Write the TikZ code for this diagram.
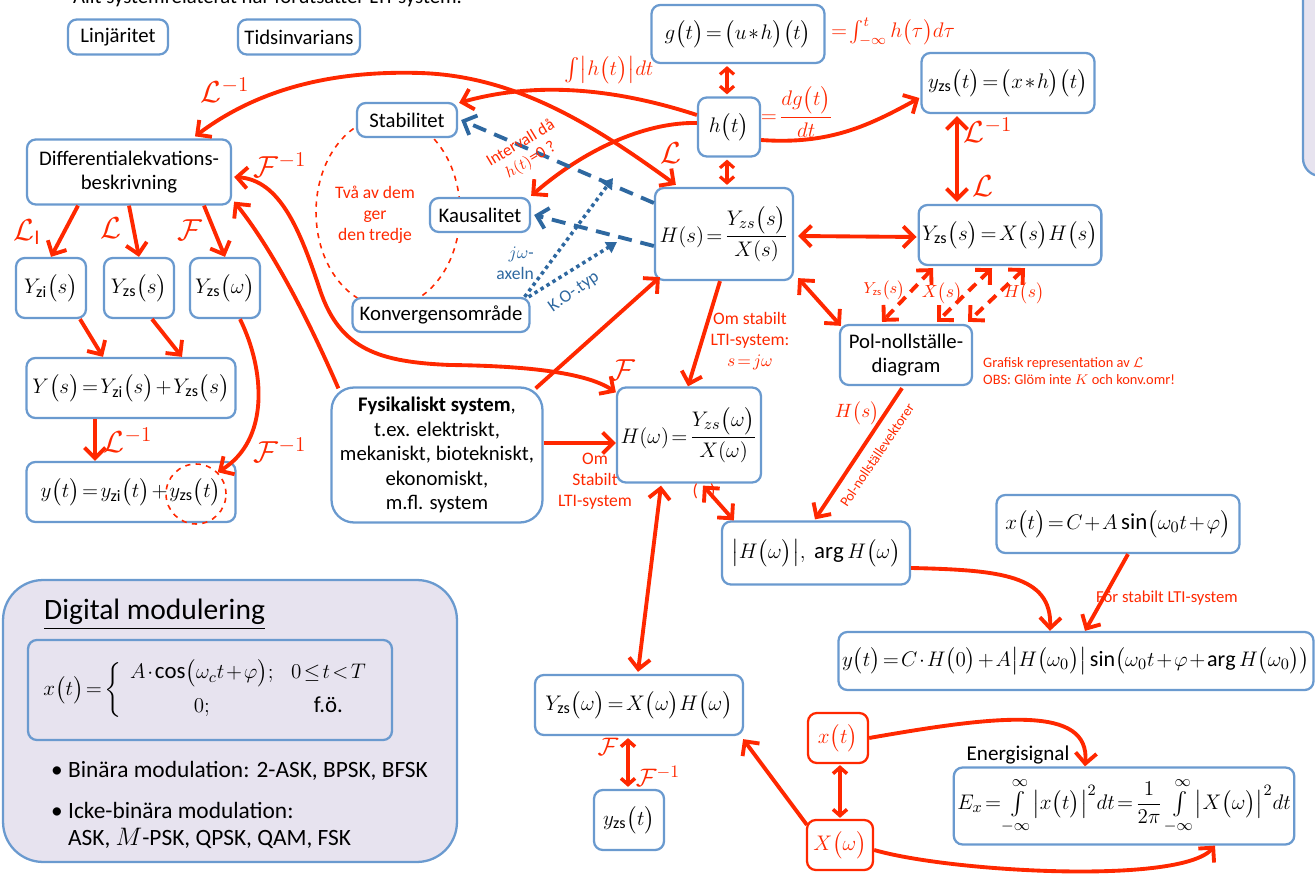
\documentclass[tikz,border=0pt]{standalone}
\usepackage{amsmath,amssymb}
\usepackage{fontspec}
\setmainfont{Carlito}
\usetikzlibrary{arrows.meta,calc}
\definecolor{rd}{RGB}{255,40,0}
\definecolor{bbord}{RGB}{106,154,207}
\definecolor{kblue}{RGB}{46,104,160}
\definecolor{lav}{RGB}{231,227,239}
\newcommand{\brk}[1]{\bigl(#1\bigr)}
\thickmuskip=2mu plus 1mu
\medmuskip=1.5mu plus 1mu
\tikzset{
  box/.style={draw=bbord, line width=1.3pt, rounded corners=5pt, fill=white, align=center, inner sep=2pt},
  rbox/.style={box, draw=rd, text=rd},
  arr/.style={draw=rd, line width=2.2pt, ->},
  darr/.style={draw=rd, line width=2.2pt, <->},
  sdarr/.style={draw=rd, line width=1.8pt, {Straight Barb[length=3.5pt,width=8pt]}-{Straight Barb[length=3.5pt,width=8pt]}},
  bdashed/.style={draw=kblue, line width=2.2pt, dash pattern=on 8pt off 5pt, ->},
  bdot/.style={draw=kblue, line width=2pt, dotted, -{Triangle[length=6pt,width=7pt]}},
  lbl/.style={text=rd, align=center, font=\fontsize{10}{12}\selectfont},
  blbl/.style={text=kblue, align=center, font=\fontsize{10}{12}\selectfont},
  op/.style={text=rd, font=\fontsize{17}{19}\selectfont},
  mth/.style={font=\fontsize{13}{15}\selectfont},
}
\begin{document}
\begin{tikzpicture}[x=0.02cm, y=-0.02cm, >={Straight Barb[length=6pt,width=12pt]}, font=\fontsize{11.8}{14}\selectfont]
\useasboundingbox (0,0) rectangle (1315,874);
\draw[bbord, line width=1.3pt, fill=lav, rounded corners=10pt] (1303,-30) rectangle (1420,176);
\draw[rd, dashed, line width=0.9pt] (388,212) ellipse (1.44cm and 1.9cm);

\node[anchor=base west] (lti) at (67,4) {Allt systemrelaterat här förutsätter LTI-system.};
\node[box, minimum width=2cm, minimum height=0.7cm] (lin) at (118,37) {Linjäritet};
\node[box, minimum width=2.44cm, minimum height=0.7cm] (tid) at (299,37) {Tidsinvarians};
\node[box, mth, minimum width=3.46cm, minimum height=1.16cm] (g) at (738,34) {$g\brk{t}=\brk{u*h}\brk{t}$};
\node[box, mth, minimum width=1.24cm, minimum height=1.18cm] (h) at (729,127) {$h\brk{t}$};
\node[box, mth, minimum width=3.46cm, minimum height=1.2cm] (yzst) at (1008,83) {$y_{\mathrm{zs}}\brk{t}=\brk{x*h}\brk{t}$};
\node[box, minimum width=2cm, minimum height=0.68cm] (stab) at (407,120) {Stabilitet};
\node[box, minimum width=4.08cm, minimum height=1.3cm] (diff) at (129,172) {Differentialekvations-\\beskrivning};
\node[box, minimum width=2cm, minimum height=0.68cm] (kaus) at (480,215) {Kausalitet};
\node[box, mth, minimum width=2.76cm, minimum height=1.84cm] (Hs) at (724,234) {$H(s)=\dfrac{Y_{zs}\brk{s}}{X(s)}$};
\node[box, mth, minimum width=3.6cm, minimum height=1.2cm] (Yzss) at (1010,235) {$Y_{\mathrm{zs}}\brk{s}=X\brk{s}H\brk{s}$};
\node[box, mth, minimum width=1.4cm, minimum height=1.2cm] (Yzi) at (51,288) {$Y_{\mathrm{zi}}\brk{s}$};
\node[box, mth, minimum width=1.4cm, minimum height=1.2cm] (Yzs) at (139,288) {$Y_{\mathrm{zs}}\brk{s}$};
\node[box, mth, minimum width=1.4cm, minimum height=1.2cm] (Yzsw) at (225,288) {$Y_{\mathrm{zs}}\brk{\omega}$};
\node[box, minimum width=3.54cm, minimum height=0.68cm] (konv) at (441,315) {Konvergensområde};
\node[box, minimum width=2.64cm, minimum height=1.2cm] (pol) at (906,355) {Pol-nollställe-\\diagram};
\node[box, mth, minimum width=4.18cm, minimum height=1.2cm] (Ys) at (131,388) {$Y\brk{s}=Y_{\mathrm{zi}}\brk{s}+Y_{\mathrm{zs}}\brk{s}$};
\node[box, rounded corners=0.45cm, minimum width=4.22cm, minimum height=2.7cm] (fys) at (437,455) {\textbf{Fysikaliskt system},\\t.ex. elektriskt,\\mekaniskt, biotekniskt,\\ekonomiskt,\\m.fl. system};
\node[box, mth, minimum width=2.88cm, minimum height=1.9cm] (Hw) at (689,435) {$H(\omega)=\dfrac{Y_{zs}\brk{\omega}}{X(\omega)}$};
\node[box, mth, minimum width=4.18cm, minimum height=1.2cm] (yt) at (131,492) {$y\brk{t}=y_{\mathrm{zi}}\brk{t}+y_{\mathrm{zs}}\brk{t}$};
\node[draw=rd, dashed, line width=0.9pt, circle, minimum size=1.2cm] (zsring) at (196,494) {};
\node[box, mth, minimum width=3.76cm, minimum height=1.26cm] (absH) at (816,553) {$\bigl|H\brk{\omega}\bigr|,\ \arg H\brk{\omega}$};
\node[box, mth, minimum width=4.86cm, minimum height=1.16cm] (xtC) at (1118,524) {$x\brk{t}=C+A\sin\brk{\omega_0t+\varphi}$};
\node[box, mth, font=\fontsize{12.5}{15}\selectfont, minimum width=9.36cm, minimum height=1.16cm] (ytC) at (1076,661) {$y\brk{t}=C\cdot H\brk{0}+A\bigl|H\brk{\omega_0}\bigr|\sin\bigl(\omega_0t+\varphi+\arg H\brk{\omega_0}\bigr)$};
\node[box, mth, minimum width=4.16cm, minimum height=1.2cm] (Yzsw2) at (639,705) {$Y_{\mathrm{zs}}\brk{\omega}=X\brk{\omega}H\brk{\omega}$};
\node[box, mth, minimum width=1.4cm, minimum height=1.2cm] (yzs) at (629,820) {$y_{\mathrm{zs}}\brk{t}$};
\node[rbox, mth, minimum width=1.2cm, minimum height=1cm] (xt) at (838,738) {$x\brk{t}$};
\node[rbox, mth, minimum width=1.32cm, minimum height=1cm] (Xw) at (840,845) {$X\brk{\omega}$};
\node[box, mth, minimum width=6.64cm, minimum height=1.54cm] (Ex) at (1124,806) {$E_x=\int\limits_{-\infty}^{\infty}\bigl|x\brk{t}\bigr|^2dt=\dfrac{1}{2\pi}\int\limits_{-\infty}^{\infty}\bigl|X\brk{\omega}\bigr|^2dt$};
\node[font=\fontsize{12}{14}\selectfont] (esig) at (1018,755) {Energisignal};

\node[box, fill=lav, rounded corners=0.8cm, minimum width=9.08cm, minimum height=5.64cm] (dm) at (230,721) {};
\node[anchor=base west, font=\fontsize{16.8}{19}\selectfont] (dmtitle) at (38,619) {\underline{Digital modulering}};
\node[box, fill=lav, mth, minimum width=7.28cm, minimum height=2cm] (xc) at (210,690) {$x\brk{t}=\left\{\begin{array}{cc} A\cdot\cos\brk{\omega_c t+\varphi}; & 0\le t<T\\[4pt] 0; & \text{f.ö.}\end{array}\right.$};
\node[anchor=base west, font=\fontsize{13.3}{16}\selectfont] (bin) at (45,777) {\textbullet\ Binära modulation: 2-ASK, BPSK, BFSK};
\node[anchor=base west, font=\fontsize{13.3}{16}\selectfont] (icke) at (45,818) {\textbullet\ Icke-binära modulation:};
\node[anchor=base west, font=\fontsize{13.3}{16}\selectfont] (icke2) at (62,845) {ASK, $M$-PSK, QPSK, QAM, FSK};

\draw[arr] ($(diff.south)+(-51,0)$) -- (Yzi.north);
\draw[arr] (diff.south) -- (Yzs.north);
\draw[arr] ($(diff.south)+(75,0)$) -- (Yzsw.north);
\draw[arr] ($(Yzi.south)+(29,0)$) -- ($(Ys.north)+(-28,0)$);
\draw[arr] ($(Yzs.south)+(13,0)$) -- ($(Ys.north)+(51,0)$);
\draw[arr] ($(Ys.south)+(-36,0)$) -- ($(yt.north)+(-36,0)$);
\draw[arr] ($(Yzsw.south)+(15,0)$) .. controls (265,370) and (270,440) .. (zsring.north east);
\draw[arr] ($(fys.north west)+(8,2)$) .. controls (300,300) and (265,240) .. ($(diff.south east)+(2,-4)$);
\draw[darr] ($(diff.east)+(2,5)$) .. controls (280,180) and (300,230) .. (320,290) .. controls (340,350) and (380,362) .. (450,365) .. controls (540,366) and (590,375) .. ($(Hw.north west)+(0,6)$);
\draw[darr] ($(diff.north)+(66,-2)$) .. controls (250,95) and (320,70) .. (420,73) .. controls (520,76) and (600,130) .. ($(Hs.north west)+(22,-2)$);
\draw[arr] ($(h.west)+(0,-12)$) .. controls (620,90) and (540,80) .. ($(stab.north east)+(1,1)$);
\draw[arr] ($(h.west)+(0,-4)$) .. controls (650,122) and (590,145) .. ($(kaus.north east)+(0,-1)$);
\draw[bdashed] ($(Hs.west)+(0,-31)$) -- ($(stab.east)+(3,0)$);
\draw[bdashed] ($(Hs.west)+(0,12)$) -- ($(kaus.east)+(3,0)$);
\coordinate (jwend) at (613,178);
\coordinate (koend) at (617,242);
\draw[bdot] ($(konv.north east)+(-6,0)$) -- (jwend);
\draw[bdot] ($(konv.north east)+(-2,0)$) -- (koend);
\draw[arr] ($(fys.north east)+(-8,2)$) -- ($(Hs.south west)+(6,-4)$);
\draw[arr] ($(fys.east)+(0,-12)$) -- ($(Hw.west)+(0,8)$);
\draw[arr] ($(Hs.south)+(-4,0)$) -- ($(Hw.north)+(-1,0)$);
\draw[darr] ($(Hs.east)+(4,2)$) -- ($(Yzss.west)+(-1,2)$);
\draw[darr] ($(Hs.south east)+(4,-3)$) -- ($(pol.north west)+(2,2)$);
\draw[sdarr] ($(g.south)+(-11,2)$) -- ($(h.north)+(-2,-2)$);
\draw[sdarr] ($(h.south)+(-2,2)$) -- ($(Hs.north)+(3,-2)$);
\draw[arr] ($(h.east)+(0,13)$) .. controls (830,145) and (870,125) .. ($(yzst.west)+(-1,15)$);
\draw[darr] ($(yzst.south)+(-51,2)$) -- ($(Yzss.north)+(-53,-2)$);
\draw[darr, dash pattern=on 6pt off 4pt] ($(Yzss.south)+(-77,2)$) -- ($(pol.north)+(-24,-2)$);
\draw[darr, dash pattern=on 6pt off 4pt] ($(Yzss.south)+(-18,2)$) -- ($(pol.north)+(31,-2)$);
\draw[darr, dash pattern=on 6pt off 4pt] ($(Yzss.south)+(15,2)$) -- ($(pol.north)+(62,-2)$);
\draw[arr] ($(pol.south)+(-4,2)$) -- ($(absH.north)+(-1,-1)$);
\draw[darr] ($(Hw.south)+(14,2)$) -- ($(absH.north west)+(13,0)$);
\draw[darr] ($(Hw.south)+(-28,2)$) -- ($(Yzsw2.north)+(-1,-2)$);
\draw[arr] ($(absH.east)+(0,15)$) .. controls (1000,570) and (1052,575) .. ($(ytC.north)+(-26,0)$);
\draw[arr] ($(xtC.south)+(10,0)$) -- ($(ytC.north)+(9,0)$);
\draw[sdarr, line width=2pt] ($(Yzsw2.south)+(-11,2)$) -- ($(yzs.north)+(-1,-2)$);
\draw[arr] ($(Xw.north west)+(1,6)$) -- ($(Yzsw2.south east)+(-1,3)$);
\draw[sdarr, line width=2pt] ($(xt.south)+(2,1)$) -- ($(Xw.north)+(0,-1)$);
\draw[arr] (xt.east) .. controls (1000,715) and (1090,705) .. ($(Ex.north)+(-39,0)$);
\draw[arr] ($(Xw.east)+(0,5)$) .. controls (950,872) and (1180,885) .. ($(Ex.south)+(91,0)$);

\node[op] (lLinv) at (225,90) {$\mathcal{L}^{-1}$};
\node[op] (lFinv) at (280,165) {$\mathcal{F}^{-1}$};
\node[op] (lLI) at (27,232) {$\mathcal{L}_{\mathrm{I}}$};
\node[op] (lL) at (111,228) {$\mathcal{L}$};
\node[op] (lF) at (190,230) {$\mathcal{F}$};
\node[op] (lLinv2) at (128,440) {$\mathcal{L}^{-1}$};
\node[op] (lFinv2) at (280,450) {$\mathcal{F}^{-1}$};
\node[op] (lFw) at (623,370) {$\mathcal{F}$};
\node[op] (lLs) at (671,153) {$\mathcal{L}$};
\node[op] (lLinv3) at (988,130) {$\mathcal{L}^{-1}$};
\node[op] (lL3) at (983,186) {$\mathcal{L}$};
\node[op, font=\fontsize{14}{16}\selectfont] (lF4) at (608,747) {$\mathcal{F}$};
\node[op, font=\fontsize{14}{16}\selectfont] (lFinv4) at (658,776) {$\mathcal{F}^{-1}$};
\node[lbl, font=\fontsize{13}{15}\selectfont] (intabs) at (609,70) {$\int\bigl|h\brk{t}\bigr|dt$};
\node[lbl, rotate=31, font=\fontsize{9.5}{11}\selectfont] (interv) at (526,152) {Intervall då\\$h(t)$=0 ?};
\node[lbl] (tva) at (375,215) {Två av dem\\ger\\den tredje};
\node[blbl, align=right, anchor=east] (jw) at (540,263) {$j\omega$-\\axeln};
\node[blbl, rotate=35] (ko) at (574,292) {K.O-.typ};
\node[lbl, font=\fontsize{13}{15}\selectfont] (dgdt) at (797,112) {$=\dfrac{dg\brk{t}}{dt}$};
\node[lbl, font=\fontsize{12}{14}\selectfont] (intg) at (893,32) {$=\int_{-\infty}^{t}h\brk{\tau}d\tau$};
\node[lbl, font=\fontsize{9}{11}\selectfont] (lY) at (884,290) {$Y_{\mathrm{zs}}\brk{s}$};
\node[lbl, font=\fontsize{10}{12}\selectfont] (lX) at (942,293) {$X\brk{s}$};
\node[lbl, font=\fontsize{10}{12}\selectfont] (lH) at (1024,293) {$H\brk{s}$};
\node[lbl] (omst) at (750,341) {Om stabilt\\LTI-system:\\$s=j\omega$};
\node[lbl] (omSt) at (595,481) {Om\\Stabilt\\LTI-system};
\node[lbl] (star) at (704,491) {(\hspace{7pt})};
\node[lbl, anchor=west, align=left, font=\fontsize{8.2}{10}\selectfont] (graf) at (977,371) {Grafisk representation av $\mathcal{L}$\\OBS: Glöm inte $K$ och konv.omr!};
\node[lbl, font=\fontsize{11}{13}\selectfont] (lHs) at (857,413) {$H\brk{s}$};
\node[lbl, rotate=56, font=\fontsize{8}{10}\selectfont] (pnv) at (877,455) {Pol-nollställevektorer};
\node[lbl, font=\fontsize{9.5}{11}\selectfont] (forst) at (1167,598) {För stabilt LTI-system};
\end{tikzpicture}
\end{document}
